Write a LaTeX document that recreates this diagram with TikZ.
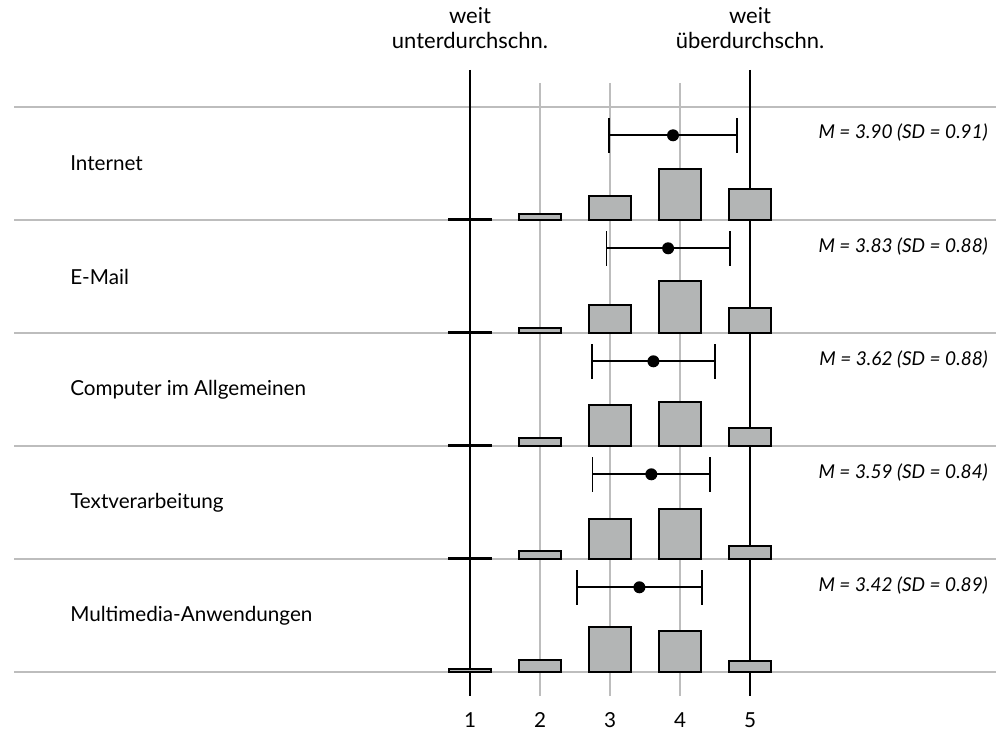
\documentclass[tikz,border=0pt]{standalone}
\usepackage{fontspec}
\setmainfont{Lato}
\begin{document}
\begin{tikzpicture}[x=0.75pt,y=-0.75pt,
  gridg/.style={draw=gridgray, line width=1.5pt},
  gridk/.style={draw=black, line width=1.5pt},
  barbox/.style={draw=black, fill=barfill, line width=1.5pt},
  errline/.style={draw=black, line width=1.3pt},
  lbl/.style={font=\fontsize{15.5}{18}\selectfont, inner sep=0pt},
  hdr/.style={font=\fontsize{16.5}{19}\selectfont, inner sep=0pt},
  mtxt/.style={font=\fontsize{14.3}{17}\selectfont\itshape, inner sep=0pt},
  dotn/.style={circle, fill=black, inner sep=0pt, minimum size=9pt}]
\definecolor{barfill}{HTML}{B3B5B5}
\definecolor{gridgray}{HTML}{BDBDBD}
\useasboundingbox (0,0) rectangle (998,731);
% horizontal lines
\foreach \y [count=\k] in {107,220,333,446,559,672}
  \draw[gridg] (14,\y) -- (996,\y);
% vertical gray lines
\foreach \x in {540,610,680}
  \draw[gridg] (\x,83) -- (\x,696);
% vertical black lines
\foreach \x in {470,750}
  \draw[gridk] (\x,70) -- (\x,696);
% header labels
\node[hdr, anchor=base] (w1) at (470,24) {weit};
\node[hdr, anchor=base] (u1) at (470,49) {unterdurchschn.};
\node[hdr, anchor=base] (w5) at (750,24) {weit};
\node[hdr, anchor=base] (u5) at (750,49) {überdurchschn.};
% axis numbers
\foreach \v in {1,...,5}
  \node[lbl, anchor=base] (n\v) at ({400+70*\v},727) {\v};
% rows
\foreach \t/\lab/\m/\s/\a/\b/\c/\d/\e [count=\i] in {
  107/Internet/3.90/0.91/1.5/6/24.3/51/31,
  220/E-Mail/3.83/0.88/1.5/5.3/28.4/52/25.4,
  333/Computer im Allgemeinen/3.62/0.88/1.5/8/41/44.3/18.3,
  446/Textverarbeitung/3.59/0.84/1.5/8/39.6/50/13.3,
  559/Multimedia-Anwendungen/3.42/0.89/3/12.3/45/40.6/11.3}{
  \pgfmathsetmacro\yb{\t+113}
  \pgfmathsetmacro\ye{\t+28.3}
  \pgfmathsetmacro\yl{\t+56.5}
  \pgfmathsetmacro\xl{400+70*(\m-\s)}
  \pgfmathsetmacro\xr{400+70*(\m+\s)}
  \pgfmathsetmacro\xm{400+70*\m}
  \node[lbl, anchor=west] (lab\i) at (70,\yl) {\lab};
  \node[mtxt, anchor=base east] (mv\i) at (988,{\t+32}) {M = \m\ (SD = \s)};
  \foreach \v/\h in {1/\a,2/\b,3/\c,4/\d,5/\e}
    \draw[barbox] ({400+70*\v-21},\yb) rectangle ++(42,-\h);
  \coordinate (el\i) at (\xl,\ye);
  \coordinate (er\i) at (\xr,\ye);
  \draw[errline] (el\i) -- (er\i);
  \draw[errline] ([yshift=-13pt]el\i) -- ([yshift=13pt]el\i);
  \draw[errline] ([yshift=-13pt]er\i) -- ([yshift=13pt]er\i);
  \node[dotn] (dot\i) at (\xm,\ye) {};
}
\end{tikzpicture}
\end{document}
